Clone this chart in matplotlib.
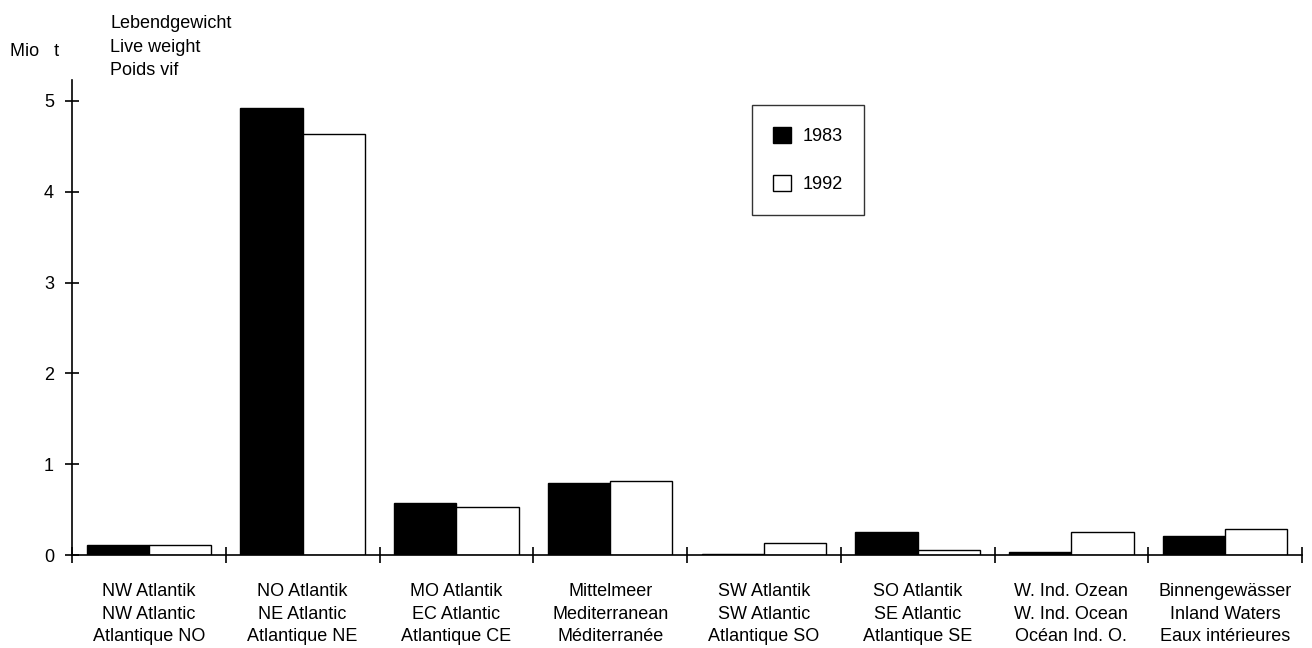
import numpy as np
import matplotlib
matplotlib.use("Agg")
import matplotlib.pyplot as plt

plt.rcParams['font.family'] = ['Liberation Sans', 'DejaVu Sans']

# data
regions = ["NW Atlantik\nNW Atlantic\nAtlantique NO",
           "NO Atlantik\nNE Atlantic\nAtlantique NE",
           "MO Atlantik\nEC Atlantic\nAtlantique CE",
           "Mittelmeer\nMediterranean\nMéditerranée",
           "SW Atlantik\nSW Atlantic\nAtlantique SO",
           "SO Atlantik\nSE Atlantic\nAtlantique SE",
           "W. Ind. Ozean\nW. Ind. Ocean\nOcéan Ind. O.",
           "Binnengewässer\nInland Waters\nEaux intérieures"]
y1983 = [0.11, 4.92, 0.57, 0.79, 0.01, 0.25, 0.03, 0.21]
y1992 = [0.11, 4.64, 0.53, 0.81, 0.13, 0.05, 0.25, 0.29]
yticks = [0, 1, 2, 3, 4, 5]

fig = plt.figure(figsize=(13.12, 6.48), dpi=100)
ax = fig.add_axes([0.0549, 0.1435, 0.9375, 0.733])

x = np.arange(len(regions))
w = 0.405
ax.bar(x - w/2, y1983, w, color="black", edgecolor="black", linewidth=1, label="1983")
ax.bar(x + w/2, y1992, w, color="white", edgecolor="black", linewidth=1, label="1992")

ax.set_xlim(-0.5, len(regions) - 0.5)
ax.set_ylim(0, 5.23)
for s in ["top", "right"]:
    ax.spines[s].set_visible(False)
ax.spines["left"].set_linewidth(1.2)
ax.spines["bottom"].set_linewidth(1.2)

ax.set_yticks(yticks)
ax.tick_params(axis="y", direction="inout", length=10, width=1.2, pad=8, labelsize=13)

# boundary ticks (major) and centred labels (minor)
ax.set_xticks(np.arange(len(regions) + 1) - 0.5)
ax.set_xticklabels([])
ax.set_xticks(x, minor=True)
ax.set_xticklabels(regions, minor=True, fontsize=13, linespacing=1.45)
ax.tick_params(axis="x", which="major", direction="inout", length=11, width=1.2)
ax.tick_params(axis="x", which="minor", length=0, pad=20)

fig.text(10/1312, 1 - 52/648, "Mio   t", fontsize=13, va="center")
fig.text(110/1312, 1 - 47/648, "Lebendgewicht\nLive weight\nPoids vif",
         fontsize=13, va="center", linespacing=1.5)

leg = ax.legend(loc="upper left", bbox_to_anchor=(0.5525, 0.947), fontsize=13,
                frameon=True, fancybox=False, edgecolor="black",
                handlelength=1.0, handleheight=1.0, labelspacing=1.65,
                borderpad=1.2, handletextpad=0.6, borderaxespad=0)
leg.get_frame().set_linewidth(1.0)

fig.savefig("out.png", dpi=100)
